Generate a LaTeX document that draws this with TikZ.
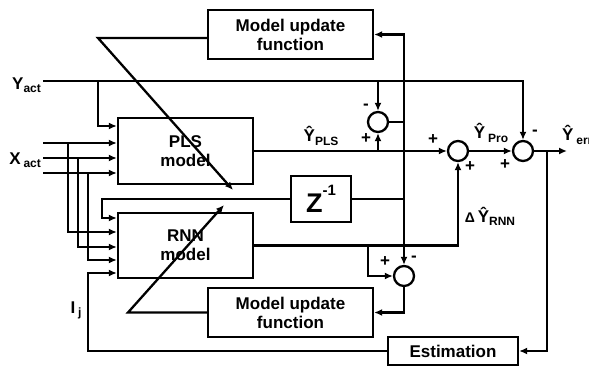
\documentclass[tikz,border=0pt]{standalone}
\usepackage{fontspec}
\setmainfont{Liberation Sans}
\usetikzlibrary{arrows.meta}
\newcommand{\lsub}[1]{\raisebox{-0.35ex}{\fontsize{12}{12}\selectfont #1}}
\newcommand{\lsup}[1]{\raisebox{1.15ex}{\fontsize{15}{15}\selectfont #1}}
\begin{document}
\begin{tikzpicture}[x=1pt,y=-1pt,line width=2.3pt,>={Latex[length=8pt,width=7pt]},
  blk/.style={draw,align=center,font=\fontsize{17}{19}\selectfont\bfseries,inner sep=0pt},
  sumc/.style={draw,circle,minimum size=20pt,inner sep=0pt},
  lbl/.style={font=\fontsize{17}{19}\selectfont\bfseries,inner sep=1pt}]
\useasboundingbox (0,0) rectangle (589,367);
\node[blk,minimum width=165pt,minimum height=49pt] (upd1) at (290.5,34.5) {Model update\\function};
\node[blk,minimum width=135pt,minimum height=66pt] (pls) at (185.5,151) {PLS\\model};
\node[blk,minimum width=135pt,minimum height=65pt] (rnn) at (185.5,245.5) {RNN\\model};
\node[blk,minimum width=60pt,minimum height=46pt,font=\fontsize{27}{29}\selectfont\bfseries] (zinv) at (321,199) {Z\lsup{-1}};
\node[blk,minimum width=165pt,minimum height=49pt] (upd2) at (290.5,312.5) {Model update\\function};
\node[blk,minimum width=130pt,minimum height=28pt] (est) at (453,351) {Estimation};
\node[sumc] (s0) at (378,122) {};
\node[sumc] (s1) at (458,151) {};
\node[sumc] (s2) at (523,151) {};
\node[sumc] (s3) at (404,276) {};
\coordinate (yact) at (43,81);
\coordinate (yb) at (98,81);
\coordinate (yb2) at (378,81);
\coordinate (p0) at (98,126);
\coordinate (xact1) at (43,143);
\coordinate (xact2) at (43,158);
\coordinate (xact3) at (43,173);
\coordinate (xb1) at (68,143);
\coordinate (xb2) at (78,158);
\coordinate (xb3) at (88,173);
\coordinate (r0) at (102,218);
\coordinate (r1) at (68,232);
\coordinate (r2) at (78,247);
\coordinate (r3) at (88,260);
\coordinate (r4) at (88,273);
\coordinate (pb) at (378,151);
\coordinate (rb) at (368,245.5);
\coordinate (eb) at (547,151);
\coordinate (yerr) at (567,151);
\coordinate (d1) at (98,38);
\coordinate (d1e) at (233,190);
\coordinate (d2) at (128,312.5);
\coordinate (d2e) at (224,205);
\draw[->] (yact) -| (s2.north);
\draw[->] (yb) -- (p0) -- (p0 -| pls.west);
\draw[->] (yb2) -- (s0.north);
\draw[->] (xact1) -- (xact1 -| pls.west);
\draw[->] (xact2) -- (xact2 -| pls.west);
\draw[->] (xact3) -- (xact3 -| pls.west);
\draw[->] (xb1) -- (r1) -- (r1 -| rnn.west);
\draw[->] (xb2) -- (r2) -- (r2 -| rnn.west);
\draw[->] (xb3) -- (r3) -- (r3 -| rnn.west);
\draw[->] (zinv.west) -| (r0) -- (r0 -| rnn.west);
\draw[->] (est.west) -| (r4) -- (r4 -| rnn.west);
\draw[->] (pls.east) -- (s1.west);
\draw[->] (pb) -- (s0.south);
\draw[->] (s0.east) -- (s0.east -| s3) |- (upd1.east);
\draw[->] (s0.east -| s3) -- (s3.north);
\draw (zinv.east) -- (zinv.east -| s3);
\draw[->] (rnn.east) -| (s1.south);
\draw[->] (rb) |- (s3.west);
\draw[->] (s3.south) |- (upd2.east);
\draw[->] (s1.east) -- (s2.west);
\draw[->] (s2.east) -- (yerr);
\draw[->] (eb) |- (est.east);
\draw[->] (upd1.west |- d1) -- (d1) -- (d1e);
\draw[->] (upd2.west) -- (d2) -- (d2e);
\node[lbl,anchor=east] (ylab) at (43,85) {Y\lsub{act}};
\node[lbl,anchor=east] (xlab) at (43,160) {X\,\lsub{act}};
\node[lbl] (ilab) at (76,310) {I\,\lsub{j}};
\node[lbl] (plslab) at (321,136) {Ŷ\lsub{PLS}};
\node[lbl] (prolab) at (491,133) {Ŷ\,\lsub{Pro}};
\node[lbl,anchor=west] (errlab) at (560,135) {Ŷ\,\lsub{err}};
\node[lbl] (rnnlab) at (490,216) {{\fontsize{14}{14}\selectfont Δ}\,Ŷ\lsub{RNN}};
\node[lbl] (sg1) at (366,107) {-};
\node[lbl] (sg2) at (366,139) {+};
\node[lbl] (sg3) at (433,140) {+};
\node[lbl] (sg4) at (470,167) {+};
\node[lbl] (sg5) at (505,165) {+};
\node[lbl] (sg6) at (535,133) {-};
\node[lbl] (sg7) at (385,262) {+};
\node[lbl] (sg8) at (414,259) {-};
\end{tikzpicture}
\end{document}
